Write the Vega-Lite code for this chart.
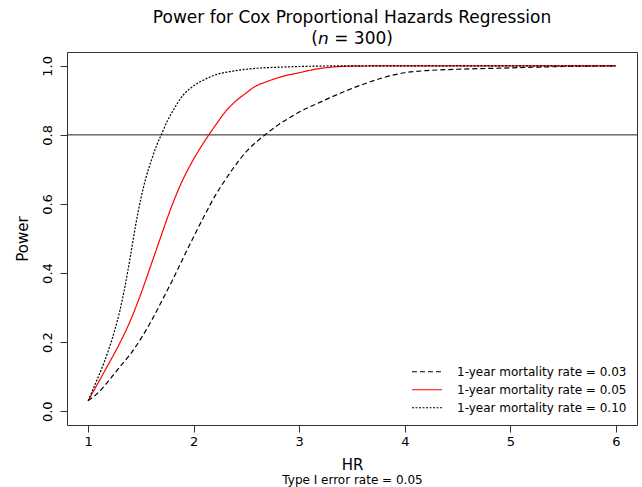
{
  "$schema": "https://vega.github.io/schema/vega-lite/v6.json",
  "width": 570,
  "height": 373,
  "autosize": {"type": "none"},
  "padding": {"left": 67, "top": 52, "right": 5, "bottom": 62},
  "background": "white",
  "config": {
    "font": "DejaVu Sans",
    "view": {"stroke": "#333333", "strokeWidth": 1},
    "axis": {"grid": false, "domain": false, "tickColor": "#333333", "tickSize": 7, "labelFont": "DejaVu Sans", "labelFontSize": 13, "labelColor": "#000000", "titleFont": "DejaVu Sans", "titleFontSize": 15, "titleFontWeight": "normal", "titleColor": "#000000"}
  },
  "title": {
    "text": "Power for Cox Proportional Hazards Regression",
    "subtitle": "(𝘯 = 300)",
    "font": "DejaVu Sans", "subtitleFont": "DejaVu Sans",
    "fontSize": 17, "subtitleFontSize": 17, "fontWeight": "normal",
    "color": "#000000", "subtitleColor": "#000000",
    "anchor": "middle", "frame": "group", "offset": 4, "subtitlePadding": 4
  },
  "datasets": {
    "curves": [
      {"HR": 1.0, "power": 0.03, "series": "1-year mortality rate = 0.03"},
      {"HR": 1.1, "power": 0.055, "series": "1-year mortality rate = 0.03"},
      {"HR": 1.2, "power": 0.09, "series": "1-year mortality rate = 0.03"},
      {"HR": 1.3, "power": 0.128, "series": "1-year mortality rate = 0.03"},
      {"HR": 1.4, "power": 0.165, "series": "1-year mortality rate = 0.03"},
      {"HR": 1.5, "power": 0.21, "series": "1-year mortality rate = 0.03"},
      {"HR": 1.6, "power": 0.262, "series": "1-year mortality rate = 0.03"},
      {"HR": 1.7, "power": 0.32, "series": "1-year mortality rate = 0.03"},
      {"HR": 1.8, "power": 0.38, "series": "1-year mortality rate = 0.03"},
      {"HR": 1.9, "power": 0.443, "series": "1-year mortality rate = 0.03"},
      {"HR": 2.0, "power": 0.505, "series": "1-year mortality rate = 0.03"},
      {"HR": 2.1, "power": 0.565, "series": "1-year mortality rate = 0.03"},
      {"HR": 2.2, "power": 0.622, "series": "1-year mortality rate = 0.03"},
      {"HR": 2.3, "power": 0.67, "series": "1-year mortality rate = 0.03"},
      {"HR": 2.4, "power": 0.714, "series": "1-year mortality rate = 0.03"},
      {"HR": 2.5, "power": 0.752, "series": "1-year mortality rate = 0.03"},
      {"HR": 2.6, "power": 0.781, "series": "1-year mortality rate = 0.03"},
      {"HR": 2.7, "power": 0.806, "series": "1-year mortality rate = 0.03"},
      {"HR": 2.8, "power": 0.829, "series": "1-year mortality rate = 0.03"},
      {"HR": 2.9, "power": 0.848, "series": "1-year mortality rate = 0.03"},
      {"HR": 3.0, "power": 0.866, "series": "1-year mortality rate = 0.03"},
      {"HR": 3.2, "power": 0.895, "series": "1-year mortality rate = 0.03"},
      {"HR": 3.4, "power": 0.922, "series": "1-year mortality rate = 0.03"},
      {"HR": 3.6, "power": 0.946, "series": "1-year mortality rate = 0.03"},
      {"HR": 3.8, "power": 0.966, "series": "1-year mortality rate = 0.03"},
      {"HR": 4.0, "power": 0.98, "series": "1-year mortality rate = 0.03"},
      {"HR": 4.2, "power": 0.986, "series": "1-year mortality rate = 0.03"},
      {"HR": 4.5, "power": 0.99, "series": "1-year mortality rate = 0.03"},
      {"HR": 5.0, "power": 0.994, "series": "1-year mortality rate = 0.03"},
      {"HR": 5.5, "power": 0.998, "series": "1-year mortality rate = 0.03"},
      {"HR": 6.0, "power": 1.0, "series": "1-year mortality rate = 0.03"},
      {"HR": 1.0, "power": 0.03, "series": "1-year mortality rate = 0.05"},
      {"HR": 1.1, "power": 0.085, "series": "1-year mortality rate = 0.05"},
      {"HR": 1.2, "power": 0.14, "series": "1-year mortality rate = 0.05"},
      {"HR": 1.3, "power": 0.197, "series": "1-year mortality rate = 0.05"},
      {"HR": 1.4, "power": 0.262, "series": "1-year mortality rate = 0.05"},
      {"HR": 1.5, "power": 0.34, "series": "1-year mortality rate = 0.05"},
      {"HR": 1.6, "power": 0.427, "series": "1-year mortality rate = 0.05"},
      {"HR": 1.7, "power": 0.515, "series": "1-year mortality rate = 0.05"},
      {"HR": 1.8, "power": 0.6, "series": "1-year mortality rate = 0.05"},
      {"HR": 1.9, "power": 0.672, "series": "1-year mortality rate = 0.05"},
      {"HR": 2.0, "power": 0.73, "series": "1-year mortality rate = 0.05"},
      {"HR": 2.1, "power": 0.78, "series": "1-year mortality rate = 0.05"},
      {"HR": 2.2, "power": 0.825, "series": "1-year mortality rate = 0.05"},
      {"HR": 2.3, "power": 0.867, "series": "1-year mortality rate = 0.05"},
      {"HR": 2.4, "power": 0.898, "series": "1-year mortality rate = 0.05"},
      {"HR": 2.5, "power": 0.922, "series": "1-year mortality rate = 0.05"},
      {"HR": 2.56, "power": 0.936, "series": "1-year mortality rate = 0.05"},
      {"HR": 2.7, "power": 0.955, "series": "1-year mortality rate = 0.05"},
      {"HR": 2.85, "power": 0.97, "series": "1-year mortality rate = 0.05"},
      {"HR": 3.0, "power": 0.98, "series": "1-year mortality rate = 0.05"},
      {"HR": 3.15, "power": 0.99, "series": "1-year mortality rate = 0.05"},
      {"HR": 3.3, "power": 0.996, "series": "1-year mortality rate = 0.05"},
      {"HR": 3.5, "power": 0.999, "series": "1-year mortality rate = 0.05"},
      {"HR": 4.0, "power": 1.0, "series": "1-year mortality rate = 0.05"},
      {"HR": 5.0, "power": 1.0, "series": "1-year mortality rate = 0.05"},
      {"HR": 6.0, "power": 1.0, "series": "1-year mortality rate = 0.05"},
      {"HR": 1.0, "power": 0.03, "series": "1-year mortality rate = 0.10"},
      {"HR": 1.05, "power": 0.066, "series": "1-year mortality rate = 0.10"},
      {"HR": 1.1, "power": 0.102, "series": "1-year mortality rate = 0.10"},
      {"HR": 1.15, "power": 0.14, "series": "1-year mortality rate = 0.10"},
      {"HR": 1.2, "power": 0.183, "series": "1-year mortality rate = 0.10"},
      {"HR": 1.25, "power": 0.232, "series": "1-year mortality rate = 0.10"},
      {"HR": 1.3, "power": 0.29, "series": "1-year mortality rate = 0.10"},
      {"HR": 1.35, "power": 0.362, "series": "1-year mortality rate = 0.10"},
      {"HR": 1.4, "power": 0.448, "series": "1-year mortality rate = 0.10"},
      {"HR": 1.45, "power": 0.538, "series": "1-year mortality rate = 0.10"},
      {"HR": 1.5, "power": 0.616, "series": "1-year mortality rate = 0.10"},
      {"HR": 1.55, "power": 0.678, "series": "1-year mortality rate = 0.10"},
      {"HR": 1.6, "power": 0.727, "series": "1-year mortality rate = 0.10"},
      {"HR": 1.65, "power": 0.77, "series": "1-year mortality rate = 0.10"},
      {"HR": 1.7, "power": 0.805, "series": "1-year mortality rate = 0.10"},
      {"HR": 1.75, "power": 0.84, "series": "1-year mortality rate = 0.10"},
      {"HR": 1.8, "power": 0.868, "series": "1-year mortality rate = 0.10"},
      {"HR": 1.9, "power": 0.915, "series": "1-year mortality rate = 0.10"},
      {"HR": 2.0, "power": 0.942, "series": "1-year mortality rate = 0.10"},
      {"HR": 2.1, "power": 0.96, "series": "1-year mortality rate = 0.10"},
      {"HR": 2.2, "power": 0.973, "series": "1-year mortality rate = 0.10"},
      {"HR": 2.4, "power": 0.986, "series": "1-year mortality rate = 0.10"},
      {"HR": 2.6, "power": 0.993, "series": "1-year mortality rate = 0.10"},
      {"HR": 2.8, "power": 0.996, "series": "1-year mortality rate = 0.10"},
      {"HR": 3.0, "power": 0.998, "series": "1-year mortality rate = 0.10"},
      {"HR": 3.5, "power": 1.0, "series": "1-year mortality rate = 0.10"},
      {"HR": 4.0, "power": 1.0, "series": "1-year mortality rate = 0.10"},
      {"HR": 5.0, "power": 1.0, "series": "1-year mortality rate = 0.10"},
      {"HR": 6.0, "power": 1.0, "series": "1-year mortality rate = 0.10"}
    ]
  },
  "layer": [
    {
      "data": {"values": [{}]},
      "mark": {"type": "rule", "color": "#222222", "strokeWidth": 1},
      "encoding": {"y": {"datum": 0.8, "type": "quantitative"}}
    },
    {
      "data": {"name": "curves"},
      "mark": {"type": "line", "strokeWidth": 1.2, "interpolate": "monotone"},
      "encoding": {
        "x": {"field": "HR", "type": "quantitative", "scale": {"domain": [0.8, 6.2], "nice": false, "zero": false},
              "axis": {"values": [1, 2, 3, 4, 5, 6], "title": "HR", "labelPadding": 3, "titlePadding": 9}},
        "y": {"field": "power", "type": "quantitative", "scale": {"domain": [-0.04, 1.04], "nice": false, "zero": false},
              "axis": {"values": [0, 0.2, 0.4, 0.6, 0.8, 1.0], "format": ".1f", "title": "Power", "labelAngle": -90, "labelAlign": "center", "labelBaseline": "bottom", "labelPadding": 6, "titlePadding": 11}},
        "color": {"field": "series", "type": "nominal",
                  "scale": {"domain": ["1-year mortality rate = 0.03", "1-year mortality rate = 0.05", "1-year mortality rate = 0.10"], "range": ["#000000", "#ff0000", "#000000"]},
                  "legend": {"title": null, "orient": "bottom-right", "offset": 10, "padding": 0, "symbolType": "stroke", "symbolSize": 900, "symbolStrokeWidth": 1.2, "clipHeight": 13.5, "labelFontSize": 12, "labelFont": "DejaVu Sans", "labelColor": "#000000", "labelLimit": 0, "labelOffset": 14, "rowPadding": 4}},
        "strokeDash": {"field": "series", "type": "nominal",
                  "scale": {"domain": ["1-year mortality rate = 0.03", "1-year mortality rate = 0.05", "1-year mortality rate = 0.10"], "range": [[5, 3], [1, 0], [2, 1.5]]},
                  "legend": {"title": null, "orient": "bottom-right", "offset": 10, "padding": 0, "symbolType": "stroke", "symbolSize": 900, "symbolStrokeWidth": 1.2, "clipHeight": 13.5, "labelFontSize": 12, "labelFont": "DejaVu Sans", "labelColor": "#000000", "labelLimit": 0, "labelOffset": 14, "rowPadding": 4}}
      }
    },
    {
      "data": {"name": "curves"},
      "mark": {"type": "point", "opacity": 0},
      "encoding": {
        "x": {"field": "HR", "type": "quantitative",
              "axis": {"orient": "bottom", "labels": false, "ticks": false, "domain": false, "title": "Type I error rate = 0.05", "titleFontSize": 12, "titlePadding": 49}}
      }
    }
  ],
  "resolve": {"axis": {"x": "independent"}}
}
